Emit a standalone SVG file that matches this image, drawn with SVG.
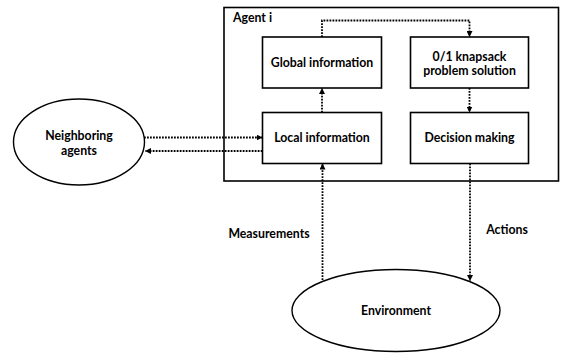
<svg xmlns="http://www.w3.org/2000/svg" width="564" height="354" viewBox="0 0 564 354">
<defs>
<marker id="ah" viewBox="0 0 6 6" refX="6" refY="3" markerWidth="6" markerHeight="6" markerUnits="userSpaceOnUse" orient="auto">
<path d="M0,0 L6,3 L0,6 z" fill="#000"/>
</marker>
<style>
.box{fill:#fff;stroke:#000;stroke-width:1.6}
.ell{fill:#fff;stroke:#000;stroke-width:1.4}
.t{font-family:Lato,"Liberation Sans",sans-serif;font-weight:bold;font-size:12.3px;fill:#000;text-anchor:middle}
.c{fill:none;stroke:#000;stroke-width:1.8;stroke-dasharray:1.8 1.2}
</style>
</defs>
<rect width="564" height="354" fill="#fff"/>
<g id="agent">
<rect class="box" x="224" y="7.5" width="334.5" height="173.5"/>
<text class="t" x="233" y="21.5" style="text-anchor:start">Agent i</text>
</g>
<g id="global">
<rect class="box" x="262.5" y="37" width="119" height="51"/>
<text class="t" x="322" y="67">Global information</text>
</g>
<g id="knapsack">
<rect class="box" x="410.5" y="37" width="118" height="51"/>
<text class="t" x="469.5" y="60.5">0/1 knapsack</text>
<text class="t" x="469.5" y="75">problem solution</text>
</g>
<g id="local">
<rect class="box" x="262.5" y="112.5" width="119" height="51"/>
<text class="t" x="322" y="142">Local information</text>
</g>
<g id="decision">
<rect class="box" x="410.5" y="112.5" width="118" height="51"/>
<text class="t" x="469.5" y="142">Decision making</text>
</g>
<g id="neighbors">
<ellipse class="ell" cx="79" cy="142" rx="65.5" ry="43"/>
<text class="t" x="79" y="140">Neighboring</text>
<text class="t" x="79" y="155">agents</text>
</g>
<g id="environment">
<ellipse class="ell" cx="396" cy="310.5" rx="104" ry="41"/>
<text class="t" x="396" y="315">Environment</text>
</g>
<g id="connectors">
<path class="c" d="M322,37 V20.5 H469.5 V37" marker-end="url(#ah)"/>
<path class="c" d="M469.5,88 V112.5" marker-end="url(#ah)"/>
<path class="c" d="M322,112.5 V88" marker-end="url(#ah)"/>
<path class="c" d="M144,137.5 H262.5" marker-end="url(#ah)"/>
<path class="c" d="M262.5,151 H145" marker-end="url(#ah)"/>
<path class="c" d="M322.5,280 V163.5" marker-end="url(#ah)"/>
<path class="c" d="M470,163.5 V281" marker-end="url(#ah)"/>
</g>
<g id="labels">
<text class="t" x="269" y="238">Measurements</text>
<text class="t" x="507" y="234">Actions</text>
</g>
</svg>
